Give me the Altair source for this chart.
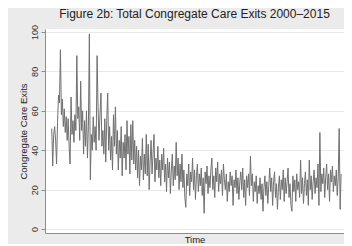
import altair as alt
import pandas as pd

# Weekly exits, read left to right off the reference (one value per ~pixel column)
exits_2000_2002 = [51, 32, 48, 52, 45, 33, 54, 68, 64, 91, 58, 66, 52, 61, 49, 57, 45, 56, 42, 33,
                   67, 48, 55, 44, 58, 50, 88, 56, 62, 45, 75, 50, 60, 38, 55, 42, 60, 36, 52, 99,
                   25, 48, 40, 57, 44, 52, 40, 88, 62, 45, 58, 69, 42, 50, 38, 56]
exits_2003_2005 = [34, 55, 69, 40, 52, 35, 47, 30, 58, 42, 62, 38, 50, 30, 45, 36, 52, 27, 44, 36,
                   48, 30, 55, 38, 47, 28, 53, 35, 55, 33, 45, 30, 42, 26, 40, 22, 37, 30, 46, 25,
                   38, 28, 48, 27, 43, 20, 35, 45, 28, 38, 48, 24, 36, 30, 42, 26, 35, 22, 38]
exits_2006_2008 = [30, 41, 24, 33, 19, 36, 26, 34, 18, 30, 38, 22, 32, 25, 44, 27, 36, 20, 33, 24,
                   38, 21, 30, 16, 11, 28, 22, 33, 17, 29, 24, 36, 20, 30, 15, 27, 33, 19, 28, 22,
                   31, 17, 26, 8, 29, 23, 32, 18, 27, 21, 30, 36, 20, 27, 16, 31, 24, 34, 19, 28]
exits_2009_2011 = [23, 30, 17, 33, 25, 20, 28, 14, 24, 19, 29, 22, 27, 12, 25, 21, 30, 18, 26, 15,
                   24, 29, 20, 31, 16, 25, 12, 27, 21, 28, 17, 37, 22, 28, 14, 24, 19, 27, 13, 22,
                   18, 26, 15, 23, 9, 21, 27, 17, 24, 13, 22, 31, 19, 26, 12, 24, 29, 16, 23, 10,
                   21, 27]
exits_2012_2015 = [15, 25, 20, 30, 14, 26, 18, 24, 31, 16, 23, 12, 9, 27, 19, 25, 14, 28, 20, 24,
                   16, 35, 18, 26, 13, 23, 29, 17, 25, 12, 35, 20, 27, 15, 24, 30, 18, 26, 21, 33,
                   12, 49, 19, 28, 23, 31, 16, 26, 33, 20, 28, 14, 30, 24, 32, 19, 27, 22, 30, 17,
                   26, 51, 10, 28]

values = exits_2000_2002 + exits_2003_2005 + exits_2006_2008 + exits_2009_2011 + exits_2012_2015
df = pd.DataFrame({"t": list(range(len(values))), "exits": values})

y_ticks = [0, 20, 40, 60, 80, 100]
FONT = "Liberation Sans"

chart = alt.Chart(df).mark_line(color="#707070", strokeWidth=1, clip=True).encode(
    x=alt.X("t:Q",
            scale=alt.Scale(domain=[-7, 303], nice=False, zero=False),
            axis=alt.Axis(title="Time", labels=False, ticks=False, grid=False,
                          domainColor="#8c8c8c", domainWidth=1,
                          titleFont=FONT, titleFontSize=9.5, titleFontWeight="normal",
                          titleColor="#222222", titlePadding=1)),
    y=alt.Y("exits:Q",
            scale=alt.Scale(domain=[-2, 101.5], nice=False, zero=False),
            axis=alt.Axis(title="Congregate Care Exits", values=y_ticks,
                          labelAngle=270, labelAlign="center", labelBaseline="bottom",
                          labelFont=FONT, labelFontSize=9, labelColor="#333333", labelPadding=2,
                          tickSize=4, tickColor="#8c8c8c",
                          domainColor="#8c8c8c", domainWidth=1,
                          grid=True, gridColor="#e9e9e9", gridWidth=1,
                          titleFont=FONT, titleFontSize=9.5, titleFontWeight="normal",
                          titleColor="#222222", titlePadding=2)),
).properties(
    width=299,
    height=204,
    title=alt.TitleParams("Figure 2b: Total Congregate Care Exits 2000\u20132015",
                          font=FONT, fontSize=12, fontWeight="normal", color="#222222",
                          anchor="middle", offset=3),
    background="#ebebeb",
    padding={"left": 10, "top": 0, "right": 0, "bottom": 0},
).configure_view(fill="white", stroke=None)

chart.save("out.html", embed_options={"renderer": "svg", "actions": False})
